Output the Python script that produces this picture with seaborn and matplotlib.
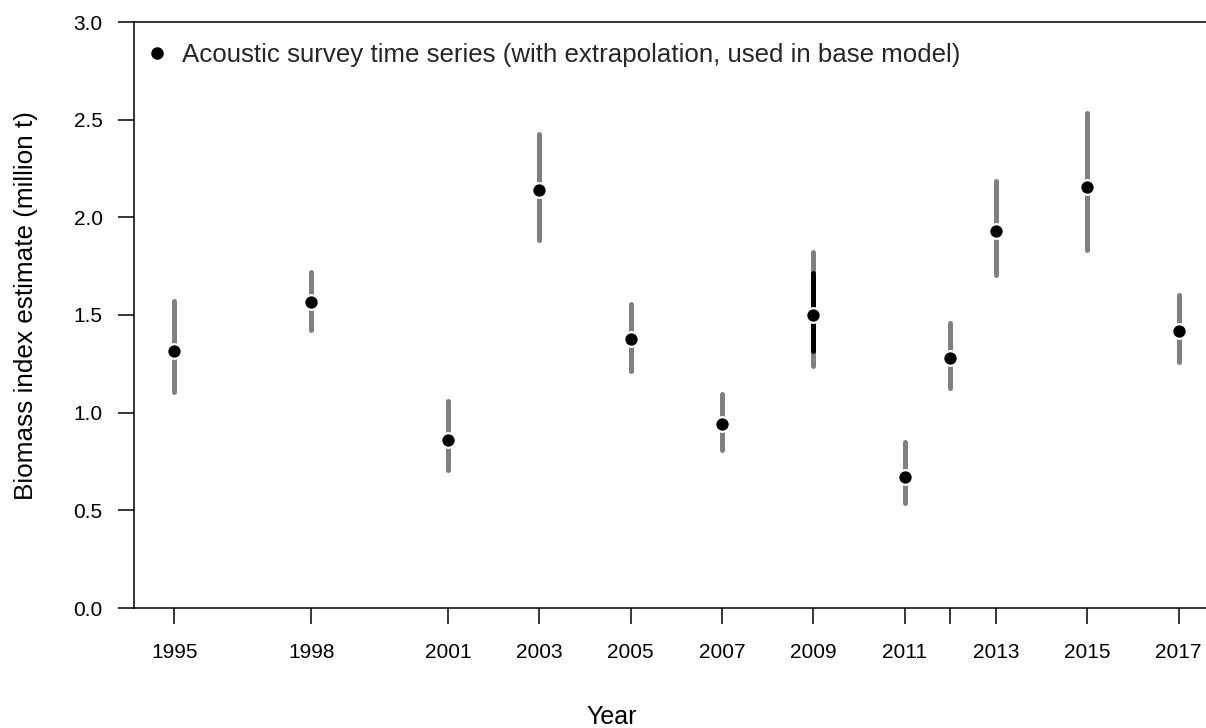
import matplotlib
matplotlib.use("Agg")
import matplotlib.pyplot as plt
from matplotlib.lines import Line2D
import seaborn as sns
import pandas as pd

years = [1995, 1998, 2001, 2003, 2005, 2007, 2009, 2011, 2012, 2013, 2015, 2017]
biomass = [1.317, 1.568, 0.862, 2.140, 1.376, 0.940, 1.502, 0.672, 1.280, 1.930, 2.157, 1.419]
ci_low = [1.105, 1.425, 0.705, 1.885, 1.213, 0.810, 1.240, 0.535, 1.128, 1.705, 1.835, 1.258]
ci_high = [1.572, 1.722, 1.062, 2.425, 1.558, 1.095, 1.822, 0.848, 1.460, 2.185, 2.533, 1.603]
inner_years = [2009]
inner_low = [1.315]
inner_high = [1.713]
tick_years = [1995, 1998, 2001, 2003, 2005, 2007, 2009, 2011, 2012, 2013, 2015, 2017]
tick_labels = ["1995", "1998", "2001", "2003", "2005", "2007", "2009", "2011", "", "2013", "2015", "2017"]
y_ticks = [0.0, 0.5, 1.0, 1.5, 2.0, 2.5, 3.0]
legend_label = "Acoustic survey time series (with extrapolation, used in base model)"

df = pd.DataFrame({"year": years, "biomass": biomass, "lo": ci_low, "hi": ci_high})

sns.set_theme(style="white")
plt.rcParams["font.family"] = ["Liberation Sans", "DejaVu Sans"]

fig = plt.figure(figsize=(12.06, 7.28), dpi=100)
ax = fig.add_axes([134 / 1206, 120 / 728, 1 - 134 / 1206, 586 / 728])

ax.vlines(df["year"], df["lo"], df["hi"], color="#808080", linewidth=3.6,
          capstyle="round", zorder=2)
ax.vlines(inner_years, inner_low, inner_high, color="black", linewidth=3.6,
          capstyle="round", zorder=3)
sns.scatterplot(data=df, x="year", y="biomass", ax=ax, color="black", s=110,
                edgecolor="white", linewidth=1.6, zorder=4, legend=False)

ax.set_xlim(1994.12, 2017.6)
ax.set_ylim(0, 3.0)
ax.set_xticks(tick_years)
ax.set_xticklabels(tick_labels)
ax.set_yticks(y_ticks)
ax.set_yticklabels([f"{v:.1f}" for v in y_ticks])
ax.tick_params(axis="both", direction="out", length=11.5, width=1.1, color="black",
               labelsize=15, labelcolor="black", bottom=True, left=True)
ax.tick_params(axis="x", pad=13.5)
ax.tick_params(axis="y", pad=11)

for side in ["left", "top", "bottom"]:
    ax.spines[side].set_visible(True)
    ax.spines[side].set_color("black")
    ax.spines[side].set_linewidth(1.1)
ax.spines["right"].set_visible(False)

ax.set_xlabel("Year", fontsize=18, color="black")
ax.xaxis.set_label_coords((612 - 134) / 1072, -(717 - 608) / 586)
ax.xaxis.label.set_va("center")
ax.set_ylabel("Biomass index estimate (million t)", fontsize=18.8, color="black")
ax.yaxis.set_label_coords(-(134 - 26) / 1072, (608 - 306) / 586)
ax.yaxis.label.set_va("center")

handle = Line2D([], [], marker="o", linestyle="none", color="black", markersize=8)
ax.legend([handle], [legend_label], loc="upper left", frameon=False, fontsize=18.65,
          handletextpad=0.66, borderaxespad=0, handlelength=0.6,
          bbox_to_anchor=(0.005, 0.9825))

fig.savefig("out.png", dpi=100)
